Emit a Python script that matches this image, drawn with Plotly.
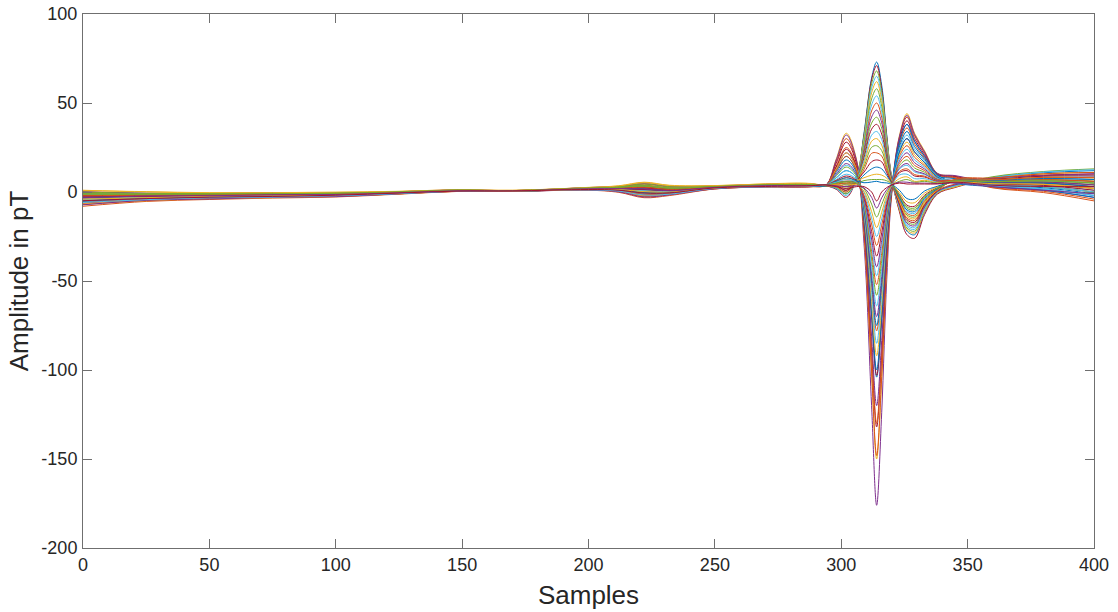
import plotly.graph_objects as go

X = [0, 25, 50, 75, 100, 125, 148, 170, 200, 212, 222, 232, 250, 270, 288,
     294, 298, 302, 306, 309, 312, 314, 316, 318, 320, 323, 326, 329, 333, 338,
     345, 360, 380, 400]

ch01 = [-4, -3.0, -2.5, -2.0, -1.6, -0.5, 0.7, 0.6, 1.6, 1.4, 0.5, 0.2, 2.4, 3.4, 3.6, 4, 13, 22, 13, -29, -120, -176, -124, -49, -1, 28, 38, 28.5, 20, 10, 8, 3, 1, -3]
ch02 = [-2.2, -1.7, -1.5, -1.3, -0.9, -0.2, 1.0, 0.7, 2.1, 2.4, 3.0, 1.8, 2.9, 3.7, 4.0, 3.5, 2, -1, 7, 33, 64, 73, 60, 32, 7, -10, -22, -24, -11.4, -0.8, 3, 8.2, 10.8, 12]
ch03 = [-6, -4.2, -3.4, -2.8, -2.2, -0.9, 0.5, 0.5, 1.3, 0.6, -1.5, -1.0, 2.0, 3.0, 3.2, 4, 18.5, 33, 18.5, -23, -102, -150, -105, -41, 1, 31.6, 44, 33, 23, 10.6, 9, 4.7, 4.3, 2]
ch04 = [0, -0.8, -0.8, -0.6, -0.5, 0.1, 1.1, 0.8, 2.4, 3.0, 4.5, 3.0, 3.3, 4.2, 4.4, 3.5, 1.5, -3, 7.6, 32, 63, 71, 58, 31, 7.6, -11, -24, -26, -12.6, -1.2, 2.5, 7.5, 9.5, 10]
ch05 = [-7, -4.8, -3.8, -3.1, -2.5, -1.0, 0.4, 0.4, 1.2, 0.2, -2.5, -1.5, 1.8, 2.9, 3.0, 4, 17, 30, 17, -22.6, -100.6, -148, -103.6, -40.4, 0.8, 30.3, 42, 31.5, 22, 10.3, 8.5, 2.6, 0.4, -4]
ch06 = [-1, -1.3, -1.2, -0.9, -0.8, 0, 1.0, 0.7, 2.2, 2.6, 3.5, 2.2, 3.0, 4.0, 4.1, 3.5, 3, 0, 8.8, 31.2, 60.8, 68, 56, 29.8, 7.4, -9.1, -20.2, -22, -10.2, -0.4, 3.5, 8.6, 11.5, 13]
ch07 = [-5, -3.6, -3.0, -2.4, -1.9, -0.7, 0.6, 0.5, 1.5, 1.0, -0.5, -0.4, 2.2, 3.2, 3.4, 4, 16, 28, 16, -19.6, -89.4, -132, -92, -35.6, 1.4, 29, 40, 30, 21, 10, 8.8, 4, 3, 0]
ch08 = [-3, -2.4, -2.0, -1.6, -1.3, -0.4, 0.8, 0.6, 1.8, 1.8, 1.5, 0.8, 2.6, 3.6, 3.7, 3.5, 2, -2, 7.5, 30, 58.3, 65, 53.7, 28.7, 7.3, -8, -18.4, -20, -9, 0, 3.2, 7.2, 8.9, 9]
ch09 = [-8, -5.3, -4.2, -3.4, -2.8, -1.2, 0.3, 0.4, 1.0, -0.2, -3.2, -2.0, 1.7, 2.8, 2.9, 4, 14.5, 25, 14.5, -19.5, -88, -130, -90.6, -35, 1.1, 26.4, 36, 27, 19, 9.4, 8, 2.3, -0.3, -5]
ch10 = [1, 0, -0.5, -0.3, -0.2, 0.3, 1.3, 0.9, 2.6, 3.5, 5.5, 3.8, 3.5, 4.6, 4.8, 3.5, 3.5, 1, 8.7, 28.8, 55.7, 62, 51.4, 27.6, 7.1, -9.7, -21.2, -23, -10.8, -0.6, 2.8, 7.9, 10.2, 11]
ch11 = [-3.3, -2.2, -2.1, -1.5, -1.4, -0.3, 0.9, 0.6, 1.9, 2.0, 1.8, 1.0, 2.7, 3.5, 3.8, 4, 18, 32, 18, -16.8, -81, -120, -83.4, -32, 2.3, 31, 43, 32.3, 22.4, 10.5, 9.2, 5.4, 5.6, 4]
ch12 = [-2, -1.8, -1.6, -1.2, -1.0, -0.2, 0.9, 0.7, 2.0, 2.2, 2.5, 1.5, 2.8, 3.8, 3.9, 3.5, 2.5, -1, 7.3, 27.2, 52.3, 58, 48.2, 26, 6.9, -6.9, -16.6, -18, -7.8, 0.4, 4, 6.8, 8.2, 8]
ch13 = [-5.8, -4.3, -3.2, -2.9, -2.1, -0.8, 0.6, 0.4, 1.4, 0.8, -1.2, -0.8, 2.1, 3.1, 3.3, 4, 12, 20, 12, -14.8, -69.8, -104, -71.9, -27.2, 2.2, 25.1, 34, 25.5, 18.3, 9.1, 7.5, 3.3, 1.7, -2]
ch14 = [-4.2, -2.8, -2.6, -1.9, -1.7, -0.4, 0.8, 0.5, 1.7, 1.6, 1.0, 0.5, 2.5, 3.3, 3.7, 3.5, 4, 2, 8.4, 25.6, 48.9, 54, 45.1, 24.5, 6.7, -8.6, -19.3, -21, -9.6, -0.2, 3.6, 8.0, 11.2, 12.5]
ch15 = [-1.8, -1.9, -1.5, -1.1, -1.1, -0.1, 0.9, 0.8, 2.1, 2.3, 2.8, 1.7, 2.9, 3.9, 4.0, 4, 14, 24, 14, -14.2, -69.1, -103, -71.2, -26.9, 1.8, 22.5, 30, 22.5, 16.5, 8.5, 6.4, 6.1, 6.9, 6]
ch16 = [-0.8, -1.4, -1.1, -1.0, -0.7, 0.1, 1.1, 0.7, 2.3, 2.7, 3.8, 2.4, 3.1, 4.1, 4.2, 3.5, 3, 0, 7, 24, 45.5, 50, 42, 23, 6.5, -5.8, -14.7, -16, -6.6, 0.8, 4.4, 6.5, 7.6, 7]
ch17 = [-5.2, -3.5, -3.1, -2.3, -2.0, -0.6, 0.6, 0.5, 1.5, 1.1, -0.2, -0.3, 2.3, 3.2, 3.5, 4, 11, 18, 11, -14.2, -67, -100, -69, -26, 2.8, 27.7, 38, 28.5, 20, 9.7, 5.4, 3.7, 2.4, -1]
ch18 = [0.2, -0.7, -0.9, -0.5, -0.6, 0.2, 1.2, 0.8, 2.5, 3.1, 4.8, 3.2, 3.4, 4.3, 4.5, 3.5, 3.5, 1, 7.1, 22.4, 42.1, 46, 38.9, 21.5, 6.3, -7.5, -17.5, -19, -8.4, 0.2, 4, 7.8, 9.2, 10.3]
ch19 = [-6.8, -4.9, -3.7, -3.2, -2.4, -1.1, 0.4, 0.5, 1.2, 0.3, -2.2, -1.4, 1.9, 2.9, 3.1, 4, 13, 22, 13, -12.2, -61.4, -92, -63.2, -23.6, 2.2, 21.2, 28, 21, 15.6, 8.2, 6, 5, 5, 3]
ch20 = [-2.9, -2.5, -1.9, -1.7, -1.2, -0.4, 0.7, 0.6, 1.8, 1.7, 1.2, 0.7, 2.6, 3.6, 3.6, 3.5, 4.5, 3, 7.7, 20.8, 38.7, 42, 35.8, 20, 6.1, -4.7, -12.9, -14, -5.4, 1.2, 6.4, 6.1, 6.9, 6]
ch21 = [-3.8, -3.1, -2.4, -2.1, -1.5, -0.6, 0.7, 0.6, 1.6, 1.3, 0.3, 0.1, 2.4, 3.4, 3.5, 4, 9.5, 15, 9.5, -11.5, -56.5, -85, -58.2, -21.5, 2.9, 23.8, 32, 24, 17.4, 8.8, 5.7, 4.4, 3.7, 1]
ch22 = [-2.1, -1.6, -1.7, -1.2, -0.9, -0.3, 0.9, 0.7, 1.9, 2.1, 2.3, 1.4, 2.8, 3.7, 3.9, 3.5, 3.5, 1, 6.3, 19.2, 35.3, 38, 32.6, 18.4, 5.9, -6.4, -15.6, -17, -7.2, 0.6, 6.9, 7.2, 8.9, 9]
ch23 = [-6.2, -4.1, -3.5, -2.7, -2.3, -0.9, 0.5, 0.5, 1.3, 0.5, -1.8, -1.1, 2.0, 3.0, 3.2, 4, 12, 20, 12, -9.6, -51.6, -78, -53.2, -19.4, 2.7, 19.9, 26, 19.5, 14.7, 7.9, 6.3, 5.8, 6.3, 5]
ch24 = [-1.1, -1.2, -1.3, -0.8, -0.8, 0.1, 1.0, 0.8, 2.3, 2.5, 3.3, 2.1, 3.1, 4.0, 4.2, 3.5, 5.5, 4, 7.4, 17.6, 31.9, 34, 29.5, 16.9, 5.7, -3.6, -11, -12, -4.2, 1.6, 6.3, 5.8, 6.3, 5]
ch25 = [-3, -2.4, -2.0, -1.6, -1.3, -0.4, 0.8, 0.6, 1.8, 1.8, 1.5, 0.8, 2.6, 3.6, 3.7, 4, 8, 12, 8, -9.8, -49.5, -75, -51, -18.5, 3.2, 22.5, 30, 22.5, 16.5, 8.5, 5, 3, 1, -3]
ch26 = [-5, -3.6, -3.0, -2.4, -1.9, -0.7, 0.6, 0.5, 1.5, 1.0, -0.5, -0.4, 2.2, 3.2, 3.4, 3.5, 4, 2, 6, 16, 28.5, 30, 26.4, 15.4, 5.5, -5.3, -13.8, -15, -6, 1, 6.7, 6.8, 8.2, 8]
ch27 = [-2.3, -1.7, -1.5, -1.3, -1.0, -0.2, 0.9, 0.6, 2.0, 2.3, 2.6, 1.6, 2.8, 3.8, 3.8, 4, 10, 16, 10, -8.4, -46, -70, -47.4, -17, 2.7, 17.3, 22, 16.5, 12.9, 7.3, 5.8, 4.7, 4.3, 2]
ch28 = [0, -0.8, -0.8, -0.6, -0.5, 0.1, 1.1, 0.8, 2.4, 3.0, 4.5, 3.0, 3.3, 4.2, 4.4, 3.5, 5.5, 5, 7.1, 14.4, 25.1, 26, 23.3, 13.9, 5.3, -2.5, -9.2, -10, -3, 2, 6.1, 5.4, 5.6, 4]
ch29 = [-4.8, -3.7, -2.9, -2.5, -1.8, -0.7, 0.6, 0.5, 1.4, 0.9, -0.8, -0.5, 2.2, 3.2, 3.4, 4, 7, 10, 7, -7.8, -41.8, -64, -43.1, -15.2, 3.2, 18.6, 24, 18, 13.8, 7.6, 6.6, 6.5, 7.6, 7]
ch30 = [-3.9, -3.1, -2.4, -2.1, -1.5, -0.6, 0.6, 0.7, 1.7, 1.3, 0.6, 0.3, 2.3, 3.5, 3.6, 3.5, 4.5, 3, 5.7, 12.8, 21.7, 22, 20.2, 12.4, 5.1, -4.2, -12, -13, -4.8, 1.4, 7.2, 7.9, 10.2, 11]
ch31 = [-1.2, -1.2, -1.3, -0.8, -0.9, 0, 1.0, 0.7, 2.2, 2.5, 3.2, 2.0, 3.0, 3.9, 4.1, 4, 9, 14, 9, -6.2, -37.6, -58, -38.8, -13.4, 2.9, 14.7, 18, 13.5, 11.1, 6.7, 5.5, 4, 3, 0]
ch32 = [-1.9, -1.9, -1.5, -1.3, -1.0, -0.1, 0.8, 0.8, 2.0, 2.3, 2.4, 1.6, 2.7, 3.9, 3.9, 3.5, 6, 6, 6.8, 11.2, 17, 18, 17, 10.8, 4.9, -1.4, -7.4, -8, -1.8, 2.4, 6, 5, 5, 3]
ch33 = [-6.1, -4.0, -3.5, -2.7, -2.2, -1.0, 0.5, 0.4, 1.3, 0.7, -1.3, -0.9, 2.0, 3.1, 3.2, 4, 6, 8, 6, -5.6, -33.4, -52, -34.4, -11.6, 3.4, 16, 20, 15, 12, 7, 6.4, 6.1, 6.9, 6]
ch34 = [-3.1, -2.3, -2.1, -1.5, -1.3, -0.5, 0.8, 0.7, 1.7, 1.9, 1.6, 0.9, 2.5, 3.7, 3.7, 3.5, 5.5, 4, 5.4, 9.6, 13, 14, 13, 9.3, 4.7, -3.1, -10.1, -11, -3.6, 1.8, 6.6, 6.5, 7.6, 7]
ch35 = [-4.1, -2.9, -2.6, -2.0, -1.6, -0.5, 0.7, 0.6, 1.6, 1.5, 0.7, 0.3, 2.4, 3.4, 3.6, 4, 8, 12, 8, -4.2, -29.9, -47, -30.8, -10.1, 3.1, 12.8, 15, 11.3, 9.8, 6.3, 5.2, 3.3, 1.7, -2]
ch36 = [0.8, 0.2, -0.4, -0.4, -0.1, 0.4, 1.2, 1.0, 2.5, 3.4, 5.2, 3.6, 3.6, 4.5, 4.7, 3.5, 6.5, 7, 6.5, 8, 9.5, 10, 9.5, 7.8, 4.5, -0.3, -5.5, -6, -0.6, 2.8, 5.8, 4.7, 4.3, 2]
ch37 = [-7.2, -4.7, -3.9, -3.0, -2.6, -1.0, 0.4, 0.3, 1.1, 0.1, -2.8, -1.6, 1.8, 2.8, 3.0, 4, 5, 6, 5, -3.8, -26.4, -42, -27.2, -8.6, 3.5, 13.4, 16, 12, 10.2, 6.4, 6.1, 5.4, 5.6, 4]
ch38 = [-0.9, -1.4, -1.1, -1.0, -0.7, -0.1, 1.1, 0.6, 2.2, 2.7, 3.6, 2.3, 2.9, 4.1, 4.0, 3.5, 5.5, 5, 5.1, 6.4, 7, 7, 7, 6.3, 4.3, -2, -8.3, -9, -2.4, 2.2, 6.3, 5.8, 6.3, 5]
ch39 = [-2.8, -2.5, -1.9, -1.7, -1.2, -0.3, 0.8, 0.5, 1.9, 1.8, 1.4, 0.9, 2.7, 3.5, 3.8, 4, 6.5, 9, 6.5, -2.3, -22.2, -36, -22.9, -6.8, 3.4, 10.8, 12, 9, 8.4, 5.8, 5.7, 4.4, 3.7, 1]
ch40 = [-5.1, -3.5, -3.1, -2.3, -1.9, -0.8, 0.6, 0.4, 1.6, 1.1, -0.3, -0.3, 2.1, 3.3, 3.4, 3.5, 6, 8, 6.3, 5.2, 5.6, 6, 5.3, 5.1, 4.2, 1, -3.7, -4, 0.6, 3.2, 6, 5, 5, 3]
ch41 = [-2.1, -1.8, -1.7, -1.1, -1.0, -0.3, 0.9, 0.6, 2.0, 2.1, 2.7, 1.5, 2.9, 3.7, 3.9, 4, 4.5, 5, 4.5, -2, -18, -30, -18.6, -5, 4, 11.5, 13, 9.8, 8.9, 6, 6.7, 6.8, 8.2, 8]
ch42 = [-5.9, -4.3, -3.3, -2.9, -2.1, -0.9, 0.5, 0.6, 1.2, 0.5, -1.7, -1.2, 2.1, 2.9, 3.3, 4, 5.5, 7, 5.5, -0.3, -14.5, -25, -15, -3.5, 3.7, 9.5, 10, 7.5, 7.5, 5.5, 5.5, 4, 3, 0]
ch43 = [-4.0, -3.2, -2.4, -2.1, -1.6, -0.4, 0.7, 0.5, 1.5, 1.4, 0.2, 0.0, 2.3, 3.4, 3.5, 4, 4, 4, 4, 0.4, -11, -20, -11.4, -2, 3.8, 7.5, 8.5, 6, 6.6, 5.2, 5.8, 4.7, 4.3, 2]
ch44 = [-1.1, -1.2, -1.2, -0.9, -0.8, 0.1, 0.9, 0.8, 2.1, 2.6, 3.4, 2.1, 3.1, 3.9, 4.2, 4, 5, 6, 5, 1.8, -6.8, -14, -7.1, -0.2, 3.9, 6, 7, 5.5, 6, 5, 6.3, 5.8, 6.3, 5]
ch45 = [-3.2, -2.3, -2.1, -1.6, -1.4, -0.4, 0.7, 0.6, 1.8, 1.9, 1.7, 0.7, 2.6, 3.6, 3.6, 4, 3.5, 3, 3.5, 2.2, -3, -9, -3.3, 1.3, 4, 5.5, 5.5, 5, 5, 4.8, 5, 3, 1, -1]
ch46 = [-4.9, -3.7, -2.9, -2.5, -1.8, -0.6, 0.5, 0.6, 1.4, 1.0, -0.6, -0.5, 2.3, 3.1, 3.5, 4, 3, 2, 3, 3, 0, -5, 0, 2.5, 4, 5, 4.5, 4.5, 4.5, 4.5, 5.5, 3.8, 3.1, 3]

CHANNELS = [ch01, ch02, ch03, ch04, ch05, ch06, ch07, ch08, ch09, ch10,
            ch11, ch12, ch13, ch14, ch15, ch16, ch17, ch18, ch19, ch20,
            ch21, ch22, ch23, ch24, ch25, ch26, ch27, ch28, ch29, ch30,
            ch31, ch32, ch33, ch34, ch35, ch36, ch37, ch38, ch39, ch40,
            ch41, ch42, ch43, ch44, ch45, ch46]

X_TICKS = [0, 50, 100, 150, 200, 250, 300, 350, 400]
Y_TICKS = [-200, -150, -100, -50, 0, 50, 100]

# MATLAB default colour order
BLUE, ORANGE, YELLOW, PURPLE, GREEN, LBLUE, RED = (
    "#0072BD", "#D95319", "#EDB120", "#7E2F8E", "#77AC30", "#4DBEEE", "#A2142F")
LINE_COLORS = [PURPLE, BLUE, YELLOW, RED, ORANGE, GREEN, RED, LBLUE, ORANGE, YELLOW,
               PURPLE, GREEN, BLUE, LBLUE, RED, ORANGE, BLUE, PURPLE, YELLOW, GREEN,
               LBLUE, RED, ORANGE, LBLUE, BLUE, YELLOW, PURPLE, GREEN, LBLUE, ORANGE,
               GREEN, RED, ORANGE, BLUE, LBLUE, YELLOW, PURPLE, GREEN, RED, BLUE,
               ORANGE, LBLUE, YELLOW, GREEN, PURPLE, RED]

fig = go.Figure()
for i, ch in enumerate(CHANNELS):
    fig.add_trace(go.Scatter(
        x=X, y=ch, mode="lines",
        line=dict(color=LINE_COLORS[i], width=1, shape="spline", smoothing=1.0),
        showlegend=False, hoverinfo="skip"))

FONT = "Liberation Sans, Arial, Helvetica, sans-serif"
AX_COLOR = "#6f6f6f"

fig.update_layout(
    width=1118, height=612,
    margin=dict(l=83, r=24, t=14, b=64),
    paper_bgcolor="white", plot_bgcolor="white",
    font=dict(family=FONT, color="#262626", size=18),
    showlegend=False,
)
fig.update_xaxes(
    range=[0, 400], tickvals=X_TICKS, ticktext=[str(v) for v in X_TICKS],
    ticks="inside", ticklen=9, tickwidth=1, tickcolor=AX_COLOR,
    showline=True, linecolor=AX_COLOR, linewidth=1, mirror="ticks",
    showgrid=False, zeroline=False, automargin=False,
    tickfont=dict(size=18, color="#262626"),
    title=dict(text="Samples", font=dict(size=26, color="#262626"), standoff=12),
)
fig.update_yaxes(
    range=[-200, 100], tickvals=Y_TICKS, ticktext=[str(v) for v in Y_TICKS],
    ticks="inside", ticklen=9, tickwidth=1, tickcolor=AX_COLOR,
    showline=True, linecolor=AX_COLOR, linewidth=1, mirror="ticks",
    showgrid=False, zeroline=False, automargin=False,
    tickfont=dict(size=18, color="#262626"),
    ticklabelstandoff=1,
    title=dict(text="Amplitude in pT", font=dict(size=26, color="#262626"), standoff=5),
)

fig.write_html("out.html")
